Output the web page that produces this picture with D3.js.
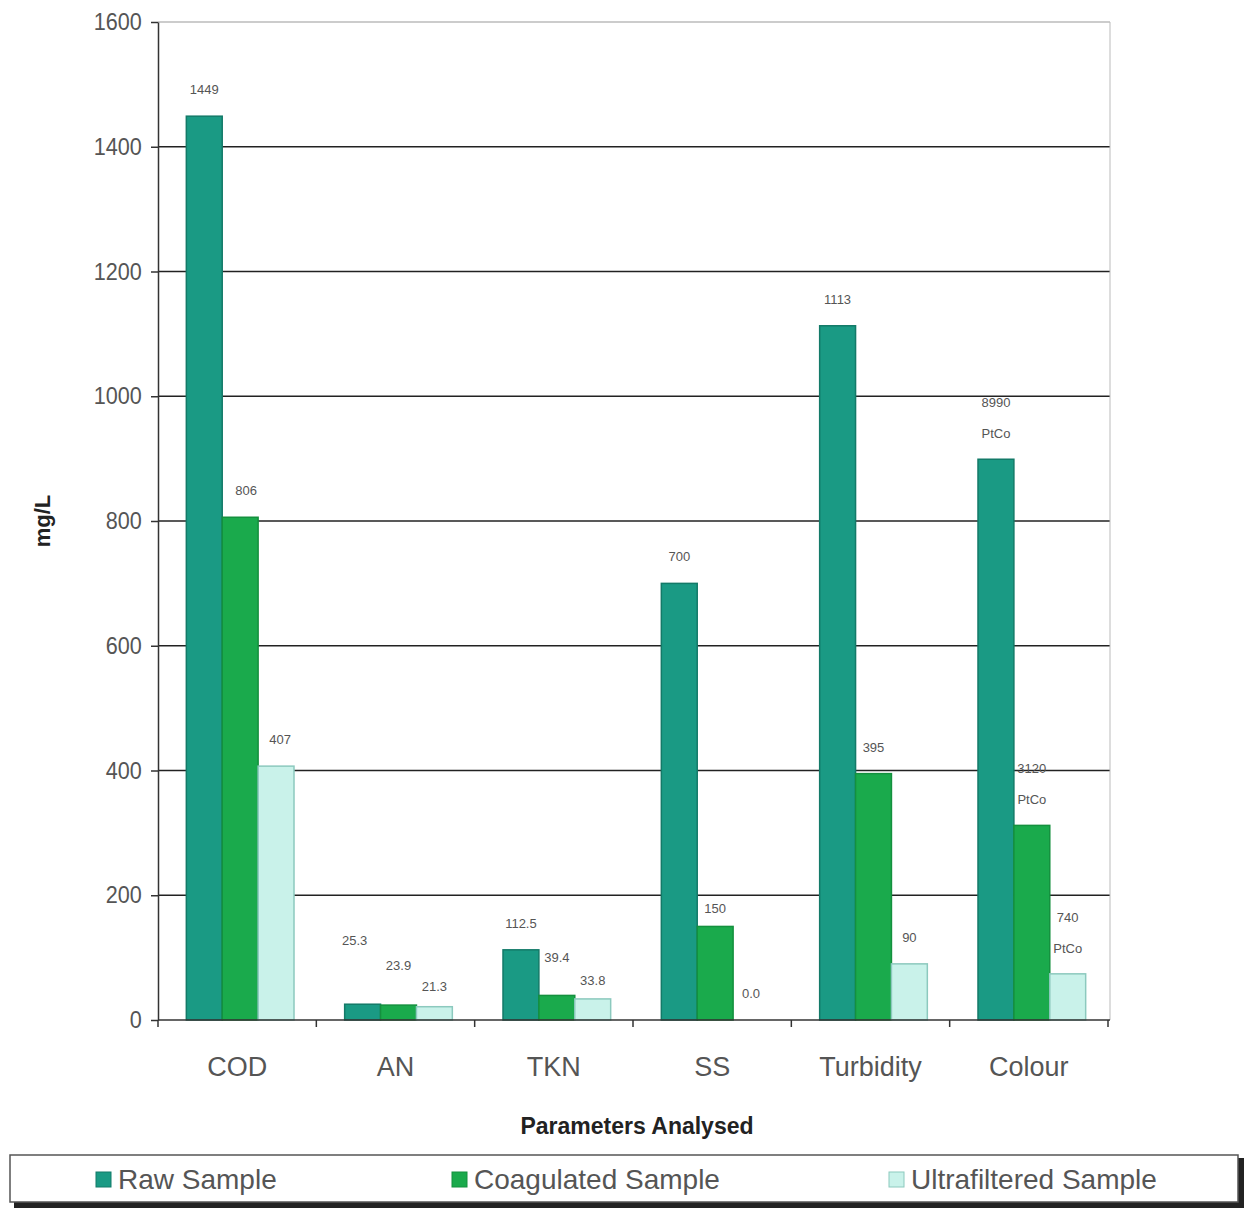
<!DOCTYPE html>
<html><head><meta charset="utf-8">
<script src="https://cdn.jsdelivr.net/npm/d3@7"></script>
<style>body{margin:0;background:#fff;} svg{display:block;}</style>
</head><body>
<script>
const categories = ["COD","AN","TKN","SS","Turbidity","Colour"];
const seriesNames = ["Raw Sample","Coagulated Sample","Ultrafiltered Sample"];
const rawValues = [1449, 25.3, 112.5, 700, 1113, 899];
const coagValues = [806, 23.9, 39.4, 150, 395, 312];
const ultraValues = [407, 21.3, 33.8, 0.0, 90, 74];
const rawLabels = ["1449","25.3","112.5","700","1113","8990|PtCo"];
const coagLabels = ["806","23.9","39.4","150","395","3120|PtCo"];
const ultraLabels = ["407","21.3","33.8","0.0","90","740|PtCo"];
const yTicks = [0,200,400,600,800,1000,1200,1400,1600];

const W=1252,H=1211;
const svg=d3.select("body").append("svg").attr("width",W).attr("height",H);
const m={l:158,r:1108,t:22,b:1020};
const x=d3.scaleBand().domain(categories).range([m.l,m.r]).paddingInner(0).paddingOuter(0);
const y=d3.scaleLinear().domain([0,1600]).range([m.b,m.t]);
const colors=["#1a9a84","#1aaa4c","#c9f2ea"];
const strokes=["#137a68","#14903e","#8cc9be"];
const series=[rawValues,coagValues,ultraValues];
const labels=[rawLabels,coagLabels,ultraLabels];
const groupW=x.bandwidth()*0.68;
const x1=d3.scaleBand().domain([0,1,2]).range([0,groupW]);
// label gap above bar (layout), special cases where the original staggered labels
const gapFor=(si,i)=>{
  const g={ "0_1":59,"1_1":35,"2_1":16,"1_2":33,"2_2":14,"1_3":13 };
  return g[si+"_"+i]!==undefined?g[si+"_"+i]:22;
};
const dxFor=(si,i)=>({ "0_1":-8,"1_0":6,"2_0":4 })[si+"_"+i]||0;

// gridlines
svg.append("g").selectAll("line").data(yTicks.filter(d=>d>0)).join("line")
 .attr("x1",m.l).attr("x2",m.r+2).attr("y1",d=>y(d)).attr("y2",d=>y(d))
 .attr("stroke",d=>d===1600?"#bbb":"#222").attr("stroke-width",1.3);
svg.append("line").attr("x1",m.r+2).attr("x2",m.r+2).attr("y1",m.t).attr("y2",m.b).attr("stroke","#bbb");

// bars
series.forEach((vals,si)=>{
  svg.append("g").selectAll("rect").data(vals).join("rect")
   .attr("x",(d,i)=>x(categories[i])+(x.bandwidth()-groupW)/2+x1(si)+3)
   .attr("width",x1.bandwidth())
   .attr("y",d=>y(d)).attr("height",d=>y(0)-y(d))
   .attr("fill",colors[si]).attr("stroke",strokes[si]).attr("stroke-width",1.5);
  svg.append("g").selectAll("text").data(vals).join("text")
   .attr("x",(d,i)=>x(categories[i])+(x.bandwidth()-groupW)/2+x1(si)+3+x1.bandwidth()/2+dxFor(si,i))
   .attr("y",(d,i)=>{const l=labels[si][i].split("|");return y(d)-(l.length>1?52:gapFor(si,i));})
   .attr("font-family","Liberation Sans, Arial, sans-serif").attr("font-size",13).attr("fill","#555")
   .attr("text-anchor","middle")
   .each(function(d,i){
     const parts=labels[si][i].split("|");
     const t=d3.select(this);
     parts.forEach((p,k)=>t.append("tspan").attr("x",t.attr("x")).attr("dy",k===0?0:31).text(p));
   });
});

// axes
const yAxis=d3.axisLeft(y).tickValues(yTicks).tickFormat(d3.format("d")).tickSize(7).tickSizeOuter(0);
const gy=svg.append("g").attr("transform",`translate(${m.l},0)`).call(yAxis);
gy.selectAll("text").attr("font-family","Liberation Sans, Arial, sans-serif").attr("font-size",24).attr("fill","#555").attr("dx",-4)
  .attr("transform","scale(0.9,1)").attr("x",-14);
gy.selectAll("line,path").attr("stroke","#333").attr("stroke-width",1.5);

const gx=svg.append("g").attr("transform",`translate(0,${m.b})`);
gx.append("line").attr("x1",m.l).attr("x2",m.r+2).attr("y1",0).attr("y2",0).attr("stroke","#333").attr("stroke-width",1.5);
gx.selectAll("line.t").data(d3.range(categories.length+1)).join("line").attr("class","t")
 .attr("x1",i=>m.l+i*x.bandwidth()).attr("x2",i=>m.l+i*x.bandwidth()).attr("y1",0).attr("y2",7).attr("stroke","#333").attr("stroke-width",1.5);
gx.selectAll("text").data(categories).join("text")
 .attr("x",d=>x(d)+x.bandwidth()/2).attr("y",56).attr("text-anchor","middle")
 .attr("font-family","Liberation Sans, Arial, sans-serif").attr("font-size",27).attr("fill","#555").text(d=>d);

// titles
svg.append("text").attr("transform","translate(50,521) rotate(-90)").attr("text-anchor","middle")
 .attr("font-family","Liberation Sans, Arial, sans-serif").attr("font-weight","bold").attr("font-size",22).attr("fill","#222").text("mg/L");
svg.append("text").attr("x",637).attr("y",1134).attr("text-anchor","middle")
 .attr("font-family","Liberation Sans, Arial, sans-serif").attr("font-weight","bold").attr("font-size",23).attr("fill","#222").text("Parameters Analysed");

// legend
svg.append("rect").attr("x",14).attr("y",1158).attr("width",1230).attr("height",50).attr("fill","#222");
svg.append("rect").attr("x",10).attr("y",1155).attr("width",1228).attr("height",47).attr("fill","#fff").attr("stroke","#555").attr("stroke-width",1.5);
const lx=[96,452,889];
seriesNames.forEach((n,i)=>{
  svg.append("rect").attr("x",lx[i]).attr("y",1172).attr("width",15).attr("height",15).attr("fill",colors[i]).attr("stroke",strokes[i]);
  svg.append("text").attr("x",lx[i]+22).attr("y",1189).attr("font-family","Liberation Sans, Arial, sans-serif")
   .attr("font-size",28).attr("fill","#555").text(n);
});
</script>
</body></html>
